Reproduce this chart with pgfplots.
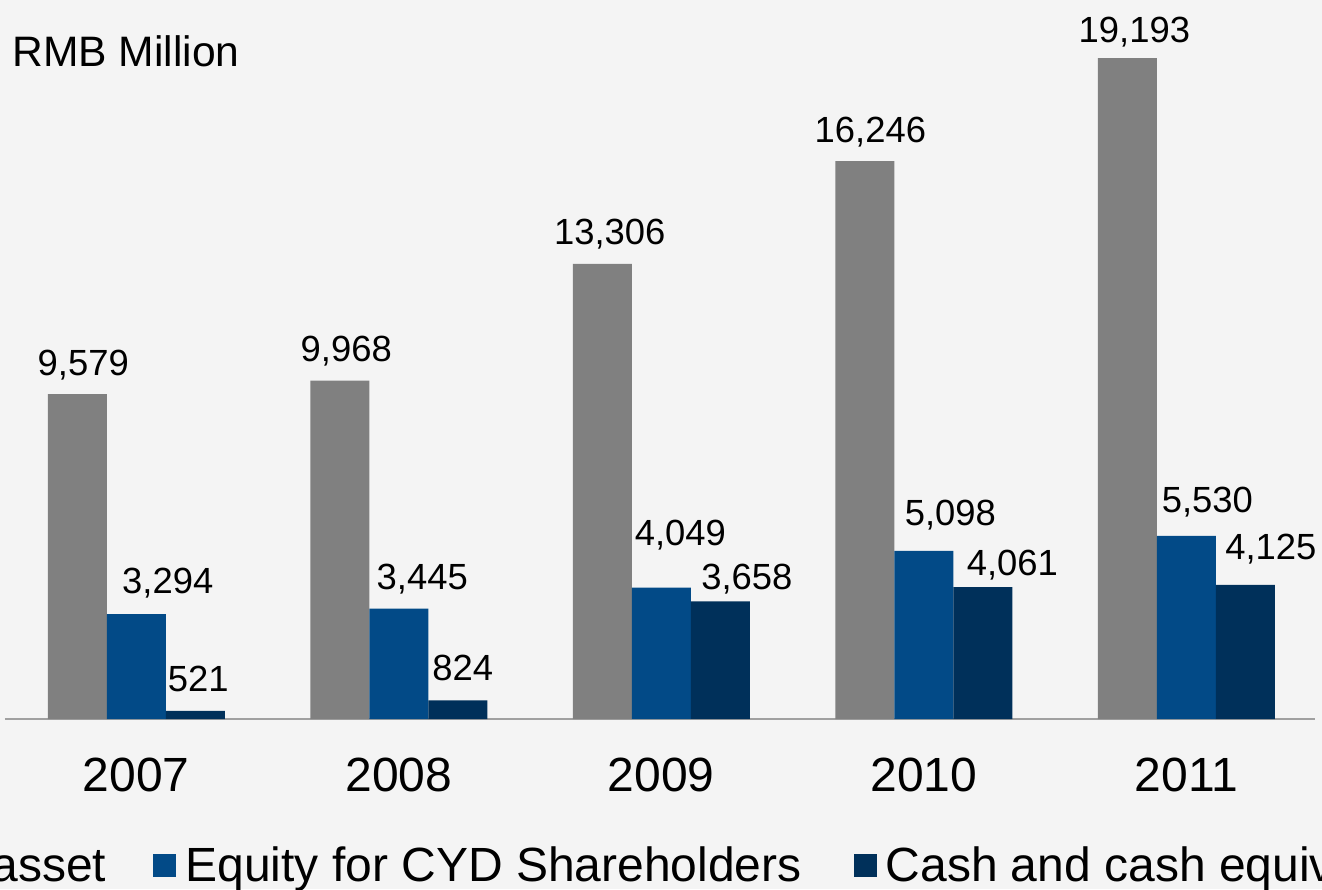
\documentclass[border=0pt]{standalone}
\usepackage{pgfplots}
\pgfplotsset{compat=1.18}
\usepackage{pgfplotstable}
\usepackage{fontspec}
\setmainfont{Liberation Sans}
\definecolor{bg}{RGB}{244,244,244}
\definecolor{cgray}{RGB}{128,128,128}
\definecolor{cblue}{RGB}{2,74,135}
\definecolor{cnavy}{RGB}{0,48,90}
\definecolor{axgray}{RGB}{160,160,160}
\pgfplotsset{sqlegend/.style={legend image code/.code={\fill[##1] (0pt,-5.75pt) rectangle (11.5pt,5.75pt);}}}

\pgfplotstableread{
x y dx dy
0 9579 3 9.5
1 9968 3.25 9.5
2 13306 3.75 9.5
3 16246 2.75 9.5
4 19193 3.5 8
}\tA
\pgfplotstableread{
x y dx dy
0 3294 15.75 10.5
1 3445 11.75 9.5
2 4049 9.5 21
3 5098 13.25 12.5
4 5530 10.5 11.5
}\tB
\pgfplotstableread{
x y dx dy
0 521 1.5 9.5
1 824 2.5 10
2 3658 13.25 6
3 4061 14.75 6
4 4125 12.75 12.5
}\tC

\begin{document}
\begin{tikzpicture}
\path[use as bounding box, fill=bg] (0,0) rectangle (661pt,444.5pt);
\clip (0,0) rectangle (661pt,444.5pt);
\begin{axis}[
  at={(2.5pt,85pt)}, anchor=south west,
  scale only axis, width=655pt, height=359.5pt,
  xmin=-0.5, xmax=4.49, ymin=292, ymax=20852,
  ybar=0pt, bar width=29.5pt,
  axis x line*=bottom, axis y line=none,
  x axis line style={axgray, line width=1pt, -},
  xtick={0,1,2,3,4}, xticklabels={2007,2008,2009,2010,2011},
  ytick=\empty,
  major tick length=0pt,
  xticklabel style={font=\fontsize{24}{28}\selectfont, anchor=base, inner sep=0pt, yshift=-36pt},
  nodes near coords,
  visualization depends on={\thisrow{dx} \as \dx},
  visualization depends on={\thisrow{dy} \as \dy},
  nodes near coords style={font=\fontsize{18.2}{21}\selectfont, anchor=base, inner sep=0pt, yshift=\dy pt, xshift=\dx pt, text=black},
  /pgf/number format/.cd, 1000 sep={,}, fixed, precision=0, assume math mode=true,
  /pgfplots/.cd,
  legend columns=3,
  legend style={at={(-0.1222,-0.2033)}, anchor=west, draw=none, fill=none,
    font=\fontsize{24}{28}\selectfont, inner sep=0pt, outer sep=0pt,
    nodes={inner sep=0pt}, column sep=4.5pt,
    /tikz/every even column/.append style={column sep=26pt}},
]
\addplot[fill=cgray, draw=none, sqlegend] table[x=x,y=y] {\tA};
\addplot[fill=cblue, draw=none, sqlegend] table[x=x,y=y] {\tB};
\addplot[fill=cnavy, draw=none, sqlegend] table[x=x,y=y] {\tC};
\legend{Total asset\kern-2.5pt, Equity for CYD Shareholders, Cash and cash equivalents}
\node[anchor=base west, font=\fontsize{21.3}{25}\selectfont, inner sep=0pt] at (rel axis cs:0.0053,0.908) {RMB Million};
\end{axis}
\end{tikzpicture}
\end{document}
